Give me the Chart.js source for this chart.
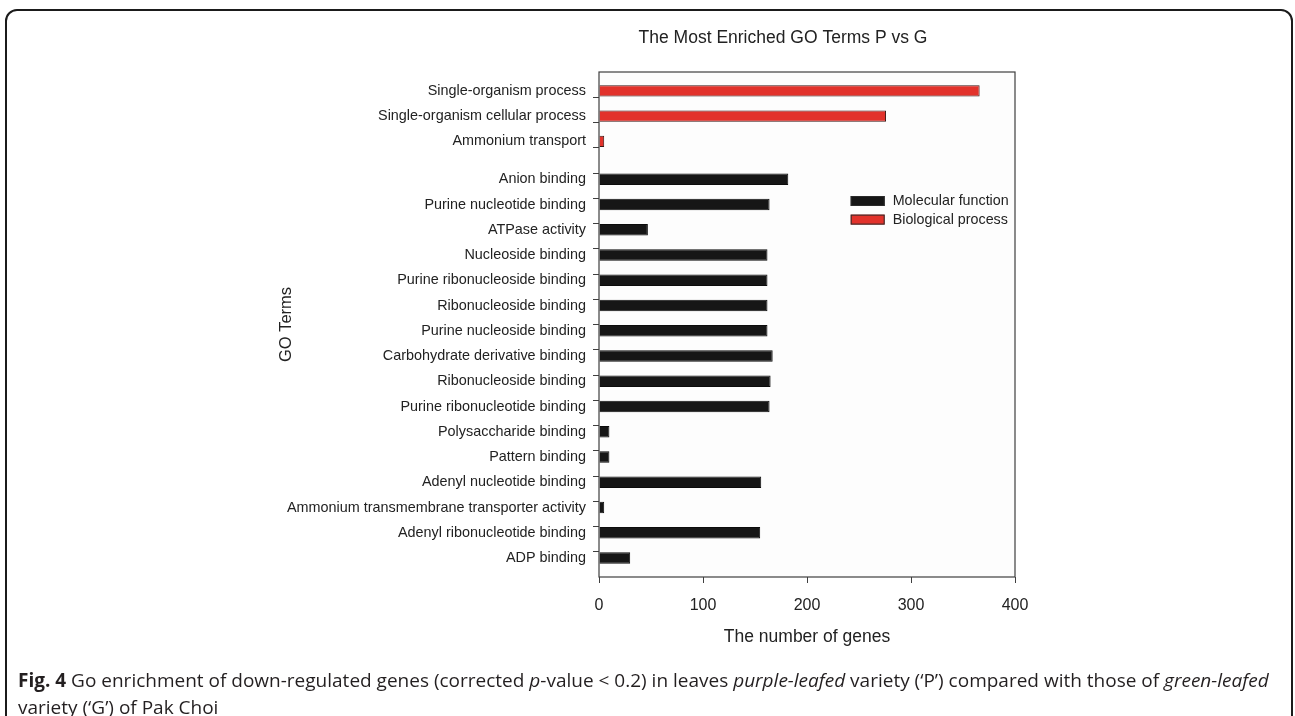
<!DOCTYPE html>
<html>
<head>
<meta charset="utf-8">
<title>The Most Enriched GO Terms P vs G</title>
<script src="https://cdn.jsdelivr.net/npm/chart.js@4.4.1/dist/chart.umd.min.js"></script>
<style>
  html, body { margin: 0; padding: 0; background: #fff; }
  body { width: 1295px; height: 716px; position: relative; overflow: hidden; }
  #panel {
    position: absolute; left: 5px; top: 9px; width: 1288px; height: 760px;
    box-sizing: border-box; border: 2px solid #1b1b1b; border-radius: 12px;
  }
  #wrap { position: absolute; left: 271px; top: 0; width: 1024px; height: 716px; }
  #caption {
    position: absolute; left: 18px; top: 667px;
    font-family: "Open Sans", "Noto Sans", sans-serif; font-size: 19px; line-height: 27px;
    color: #231f20; white-space: nowrap;
  }
  #caption b { font-weight: 700; }
</style>
</head>
<body>
<div id="panel"></div>
<div id="wrap"><canvas id="chart" width="1024" height="716"></canvas></div>
<div id="caption"><b>Fig. 4</b> Go enrichment of down-regulated genes (corrected <i>p</i>-value &lt; 0.2) in leaves <i>purple-leafed</i> variety (‘P’) compared with those of <i>green-leafed</i><br>variety (‘G’) of Pak Choi</div>

<script>
// GO terms and gene counts, top to bottom
const bioTerms = [
  'Single-organism process',
  'Single-organism cellular process',
  'Ammonium transport'
];
const bioCounts = [366, 276, 5];

const molTerms = [
  'Anion binding',
  'Purine nucleotide binding',
  'ATPase activity',
  'Nucleoside binding',
  'Purine ribonucleoside binding',
  'Ribonucleoside binding',
  'Purine nucleoside binding',
  'Carbohydrate derivative binding',
  'Ribonucleoside binding',
  'Purine ribonucleotide binding',
  'Polysaccharide binding',
  'Pattern binding',
  'Adenyl nucleotide binding',
  'Ammonium transmembrane transporter activity',
  'Adenyl ribonucleotide binding',
  'ADP binding'
];
const molCounts = [182, 164, 47, 162, 162, 162, 162, 167, 165, 164, 10, 10, 156, 5, 155, 30];

const seriesNames = ['Molecular function', 'Biological process'];
const xTicks = [0, 100, 200, 300, 400];

// Each term owns one row; an empty row separates the two ontologies.
// Rows are split into two half-rows: biological-process bars sit in the
// lower half, molecular-function bars in the upper half.
const rowCount = bioTerms.length + 1 + molTerms.length;
const labels = new Array(rowCount * 2).fill('');
const bioData = new Array(rowCount * 2).fill(null);
const molData = new Array(rowCount * 2).fill(null);
bioTerms.forEach((t, i) => { const k = 2 * i + 1; labels[k] = t; bioData[k] = bioCounts[i]; });
molTerms.forEach((t, i) => { const k = 2 * (bioTerms.length + 1 + i); labels[k] = t; molData[k] = molCounts[i]; });

const INK = '#222222';
const FRAME = '#3f3f3f';
Chart.defaults.font.family = 'Arial, "Liberation Sans", Helvetica, sans-serif';
Chart.defaults.color = INK;

// plot background and frame
const framePlugin = {
  id: 'plotFrame',
  beforeDatasetsDraw(chart) {
    const { ctx, chartArea: a } = chart;
    ctx.save();
    ctx.fillStyle = '#fdfdfd';
    ctx.fillRect(a.left, a.top, a.width, a.height);
    ctx.restore();
  },
  afterDatasetsDraw(chart) {
    const { ctx, chartArea: a } = chart;
    ctx.save();
    ctx.strokeStyle = FRAME;
    ctx.lineWidth = 1.2;
    ctx.strokeRect(a.left, a.top, a.width, a.height);
    ctx.restore();
  }
};

// legend drawn inside the plot area
const insetLegend = {
  id: 'insetLegend',
  afterDraw(chart) {
    const { ctx, chartArea: a } = chart;
    const x0 = a.left + a.width * 0.605;
    let y = a.top + 129;
    ctx.save();
    ctx.font = '14.3px Arial, "Liberation Sans", sans-serif';
    ctx.textBaseline = 'middle';
    ctx.textAlign = 'left';
    chart.data.datasets.forEach(ds => {
      ctx.fillStyle = ds.backgroundColor;
      ctx.fillRect(x0, y - 5, 34, 10);
      ctx.strokeStyle = '#2a2a2a';
      ctx.lineWidth = 1;
      ctx.strokeRect(x0 + 0.5, y - 4.5, 33, 9);
      ctx.fillStyle = INK;
      ctx.fillText(ds.label, x0 + 42, y);
      y += 18.6;
    });
    ctx.restore();
  }
};

new Chart(document.getElementById('chart'), {
  type: 'bar',
  data: {
    labels: labels,
    datasets: [
      {
        label: seriesNames[0],
        data: molData,
        backgroundColor: '#161616',
        borderColor: '#0c0c0c',
        borderWidth: 1,
        grouped: false,
        categoryPercentage: 1,
        barPercentage: 0.92
      },
      {
        label: seriesNames[1],
        data: bioData,
        backgroundColor: '#e2322b',
        borderColor: '#3b1614',
        borderWidth: 1,
        grouped: false,
        categoryPercentage: 1,
        barPercentage: 0.9
      }
    ]
  },
  options: {
    indexAxis: 'y',
    responsive: false,
    animation: false,
    devicePixelRatio: 1,
    layout: { padding: 0 },
    plugins: {
      legend: { display: false },
      tooltip: { enabled: false },
      title: {
        display: true,
        text: 'The Most Enriched GO Terms P vs G',
        color: INK,
        font: { size: 17.5, weight: 'normal' },
        padding: { top: 28, bottom: 23 }
      }
    },
    scales: {
      x: {
        type: 'linear',
        min: xTicks[0],
        max: xTicks[xTicks.length - 1],
        afterBuildTicks: s => { s.ticks = xTicks.map(v => ({ value: v })); },
        ticks: { color: INK, font: { size: 16 }, padding: 13 },
        grid: { drawOnChartArea: false, tickLength: 6, color: FRAME, lineWidth: 1 },
        border: { display: false },
        title: {
          display: true,
          text: 'The number of genes',
          color: INK,
          font: { size: 17.5 },
          padding: { top: 0, bottom: 68 }
        },
        afterFit: s => { s.height = 139; }
      },
      y: {
        type: 'category',
        ticks: { autoSkip: false, color: INK, font: { size: 14.4 }, padding: 7 },
        grid: {
          drawOnChartArea: false,
          tickLength: 6,
          lineWidth: 1,
          color: ctx => (ctx.index > 0 && ctx.index % 2 === 0) ? FRAME : 'rgba(0,0,0,0)'
        },
        border: { display: false },
        title: {
          display: true,
          text: 'GO Terms',
          color: INK,
          font: { size: 16.5 },
          padding: { top: 6, bottom: 0 }
        },
        afterFit: s => { s.width = 328; }
      },
      y2: {
        type: 'linear',
        axis: 'y',
        position: 'right',
        display: true,
        ticks: { display: false },
        grid: { display: false },
        border: { display: false },
        afterFit: s => { s.width = 280; }
      }
    }
  },
  plugins: [framePlugin, insetLegend]
});
</script>
</body>
</html>
